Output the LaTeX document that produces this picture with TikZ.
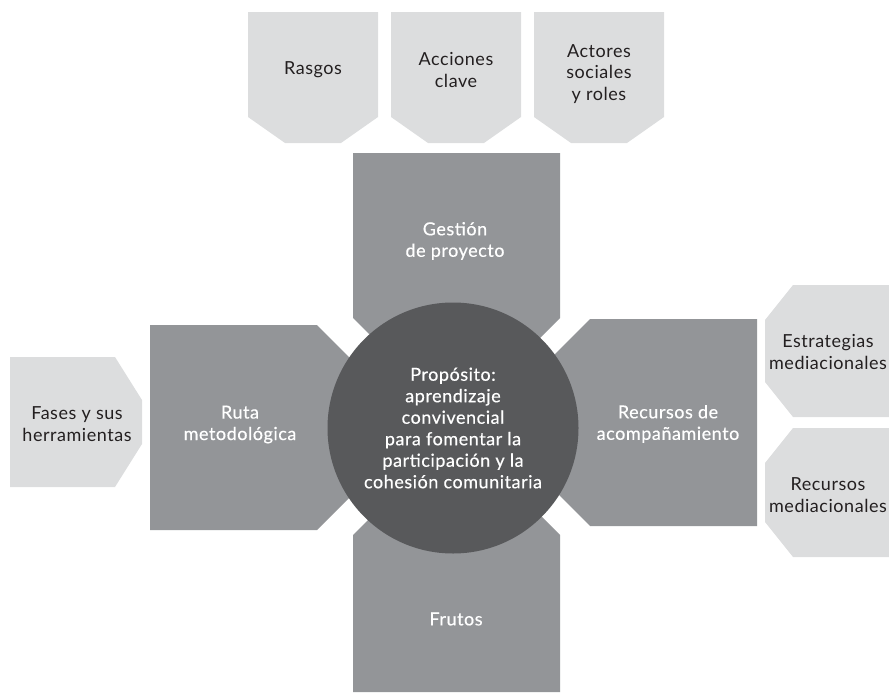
\documentclass[tikz,border=0pt]{standalone}
\usepackage{fontspec}
\setmainfont{Lato}[LetterSpace=3]
\newfontfamily\medfont{Lato}[FakeBold=0.4,LetterSpace=3]
\definecolor{lightg}{HTML}{DCDDDE}
\definecolor{midg}{HTML}{939598}
\definecolor{darkg}{HTML}{58595B}
\definecolor{txt}{HTML}{231F20}
\tikzset{
  lbox/.style={fill=lightg},
  mbox/.style={fill=midg},
  ltext/.style={text=txt, align=center, inner sep=0pt, font=\fontsize{18}{21.5}\selectfont},
  wtext/.style={text=white, align=center, inner sep=0pt, font=\medfont\fontsize{18}{21.5}\selectfont},
}
\begin{document}
\begin{tikzpicture}[x=1pt,y=-1pt]
\useasboundingbox (0,0) rectangle (889,696);
% top light boxes (pointing down)
\foreach \xa in {248,391,534}{
  \fill[lbox] (\xa,12) -- ++(130,0) -- ++(0,105) -- ++(-37,26) -- ++(-56,0) -- ++(-37,-26) -- cycle;
}
\node[ltext] (rasgos) at (313,70) {Rasgos};
\node[ltext] (acciones) at (456,70) {Acciones\\clave};
\node[ltext] (actores) at (599,74) {Actores\\sociales\\y roles};
% left light box (pointing right)
\fill[lbox] (10,357) -- (115,357) -- (142,400) -- (142,444) -- (115,487) -- (10,487) -- cycle;
\node[ltext] (fases) at (77,424) {Fases y sus\\herramientas};
% right light boxes (pointing left)
\fill[lbox] (793,285) -- (900,285) -- (900,417) -- (793,417) -- (765,382) -- (765,320) -- cycle;
\fill[lbox] (793,428) -- (900,428) -- (900,557) -- (793,557) -- (765,522) -- (765,463) -- cycle;
\node[ltext] (estr) at (828,352) {Estrategias\\mediacionales};
\node[ltext] (recm) at (828,495) {Recursos\\mediacionales};
% medium boxes
\fill[mbox] (353,153) -- (560,153) -- (560,318) -- (478,400) -- (435,400) -- (353,318) -- cycle;
\fill[mbox] (150,325) -- (317,325) -- (400,408) -- (400,447) -- (317,530) -- (150,530) -- cycle;
\fill[mbox] (757,319) -- (590,319) -- (505,404) -- (505,441) -- (590,526) -- (757,526) -- cycle;
\fill[mbox] (353,692) -- (560,692) -- (560,535) -- (480,455) -- (433,455) -- (353,535) -- cycle;
\node[wtext] (gestion) at (455,241) {Gestión\\de proyecto};
\node[wtext] (ruta) at (240,424.5) {Ruta\\metodológica};
\node[wtext] (recursos) at (668,424) {Recursos de\\acompañamiento};
\node[wtext] (frutos) at (456,619) {Frutos};
% central circle
\node[circle, fill=darkg, minimum size=251pt, inner sep=0pt, text=white, align=center,
      font=\medfont\fontsize{18}{21.5}\selectfont] (prop) at (453,428)
  {Propósito:\\aprendizaje\\convivencial\\para fomentar la\\participación y la\\cohesión comunitaria};
\end{tikzpicture}
\end{document}
